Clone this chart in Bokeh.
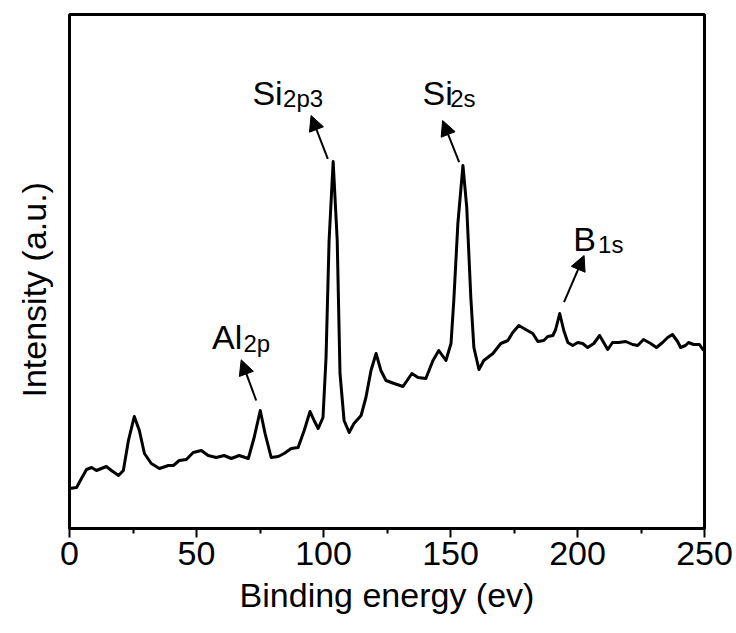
from bokeh.plotting import figure
from bokeh.models import Range1d, FixedTicker, Arrow, NormalHead, ColumnDataSource, Title
from bokeh.core.properties import value
from bokeh.embed import file_html
from bokeh.resources import INLINE

# ---- data (binding energy in eV, intensity in arbitrary units) ----
energy_ev = [0, 2.8, 4.7, 6.7, 8.7, 10.6, 14.5, 16.5, 19.3, 21.2, 23.2, 25.5, 27.5, 29.5,
             32.2, 35.4, 38.9, 40.9, 43.2, 46.0, 48.7, 51.9, 54.6, 57.8, 60.9, 63.7, 66.8,
             70.4, 72.7, 75.1, 77.0, 79.4, 82.2, 84.5, 87.3, 90.0, 92.4, 94.7, 96.3, 97.9,
             99.8, 101.0, 102.2, 103.8, 105.4, 106.5, 108.1, 110.1, 112.0, 114.8, 116.7,
             118.7, 120.7, 122.6, 124.6, 127.8, 131.3, 134.8, 137.2, 140.3, 143.1, 145.4,
             148.2, 150.2, 151.3, 152.9, 154.9, 156.4, 158.0, 159.2, 161.2, 163.1, 166.7,
             169.8, 172.6, 174.5, 176.9, 179.6, 182.4, 184.4, 186.7, 188.3, 190.3, 191.4,
             193.0, 194.6, 196.2, 198.1, 200.1, 202.0, 204.0, 206.4, 208.7, 210.3, 211.9,
             213.8, 216.2, 219.0, 221.7, 223.7, 226.0, 228.8, 231.1, 233.5, 235.5, 237.4,
             239.4, 240.6, 242.5, 243.7, 245.7, 248.0, 249.6]
intensity = [40, 41, 50, 59, 61, 58, 62, 58, 53, 58, 88, 112, 98, 75,
             65, 60, 63, 63, 68, 69, 76, 78, 73, 71, 73, 70, 73,
             70, 91, 118, 95, 71, 72, 75, 80, 81, 98, 117, 108, 100,
             111, 171, 288, 367, 288, 155, 108, 96, 105, 113, 131,
             158, 175, 158, 148, 145, 142, 155, 151, 150, 168, 178,
             168, 185, 228, 305, 363, 321, 231, 181, 159, 168, 175,
             185, 188, 196, 203, 199, 195, 187, 188, 192, 193, 199,
             215, 198, 186, 183, 186, 185, 181, 185, 193, 186, 179,
             186, 186, 187, 184, 183, 189, 185, 181, 186, 191, 194,
             187, 181, 183, 186, 184, 184, 178]

x_ticks = [0, 50, 100, 150, 200, 250]
x_minor_ticks = [25, 75, 125, 175, 225]

peak_names = ["Si", "Si", "Al", "B"]
peak_subs = ["2p3", "2s", "2p", "1s"]

# ---- annotation placement ----
label_x = [72.0, 139.0, 56.1, 198.3]
label_y = [435.7, 435.7, 191.3, 289.7]
sub_x = [84.1, 149.9, 68.5, 208.1]
sub_y = [429.7, 429.7, 185.3, 283.7]
arrow_x0 = [101.7, 153.4, 73.5, 194.7]
arrow_y0 = [369.7, 366.3, 128.0, 226.3]
arrow_x1 = [95.1, 146.9, 67.6, 202.6]
arrow_y1 = [413.0, 408.0, 168.7, 273.0]

FONT = "Liberation Sans"

p = figure(width=736, height=633, output_backend="svg", toolbar_location=None,
           x_range=Range1d(0, 250), y_range=Range1d(0, 514))
p.min_border_left = 68
p.min_border_right = 32
p.min_border_top = 14
p.min_border_bottom = 105
p.grid.visible = False
p.outline_line_color = "black"
p.outline_line_width = 3
p.background_fill_color = "white"
p.border_fill_color = "white"

# x axis
xa = p.xaxis[0]
xa.ticker = FixedTicker(ticks=x_ticks, minor_ticks=x_minor_ticks)
xa.axis_line_width = 3
xa.major_tick_line_width = 2
xa.minor_tick_line_width = 2
xa.major_tick_in = 0
xa.major_tick_out = 9
xa.minor_tick_in = 0
xa.minor_tick_out = 5
xa.major_label_text_font = FONT
xa.major_label_text_font_size = "34px"
xa.major_label_text_color = "black"
xa.major_label_standoff = 4
xa.axis_label = "Binding energy (ev)"
xa.axis_label_text_font = FONT
xa.axis_label_text_font_size = "34px"
xa.axis_label_text_font_style = "normal"
xa.axis_label_text_color = "black"
xa.axis_label_standoff = 8

# y axis: no ticks; title placed as a side title
p.yaxis.visible = False
p.add_layout(Title(text="Intensity (a.u.)", align="left", offset=131,
                   vertical_align="top",
                   text_font=FONT, text_font_size="34px", text_font_style="normal",
                   text_color="black", standoff=29), "left")

# spectrum
p.line(energy_ev, intensity, line_color="black", line_width=3, line_join="round")

# arrows
arrow_src = ColumnDataSource(dict(x0=arrow_x0, y0=arrow_y0, x1=arrow_x1, y1=arrow_y1))
p.add_layout(Arrow(end=NormalHead(size=15, fill_color="black", line_color="black", line_width=1),
                   x_start="x0", y_start="y0", x_end="x1", y_end="y1",
                   source=arrow_src, line_color="black", line_width=2))

# labels
p.text(x=label_x, y=label_y, text=peak_names, text_font=value(FONT),
       text_font_size="34px", text_align="left", text_baseline="alphabetic",
       text_color="black")
p.text(x=sub_x, y=sub_y, text=peak_subs, text_font=value(FONT),
       text_font_size="24px", text_align="left", text_baseline="alphabetic",
       text_color="black")

open("out.html", "w").write(file_html(p, INLINE))
